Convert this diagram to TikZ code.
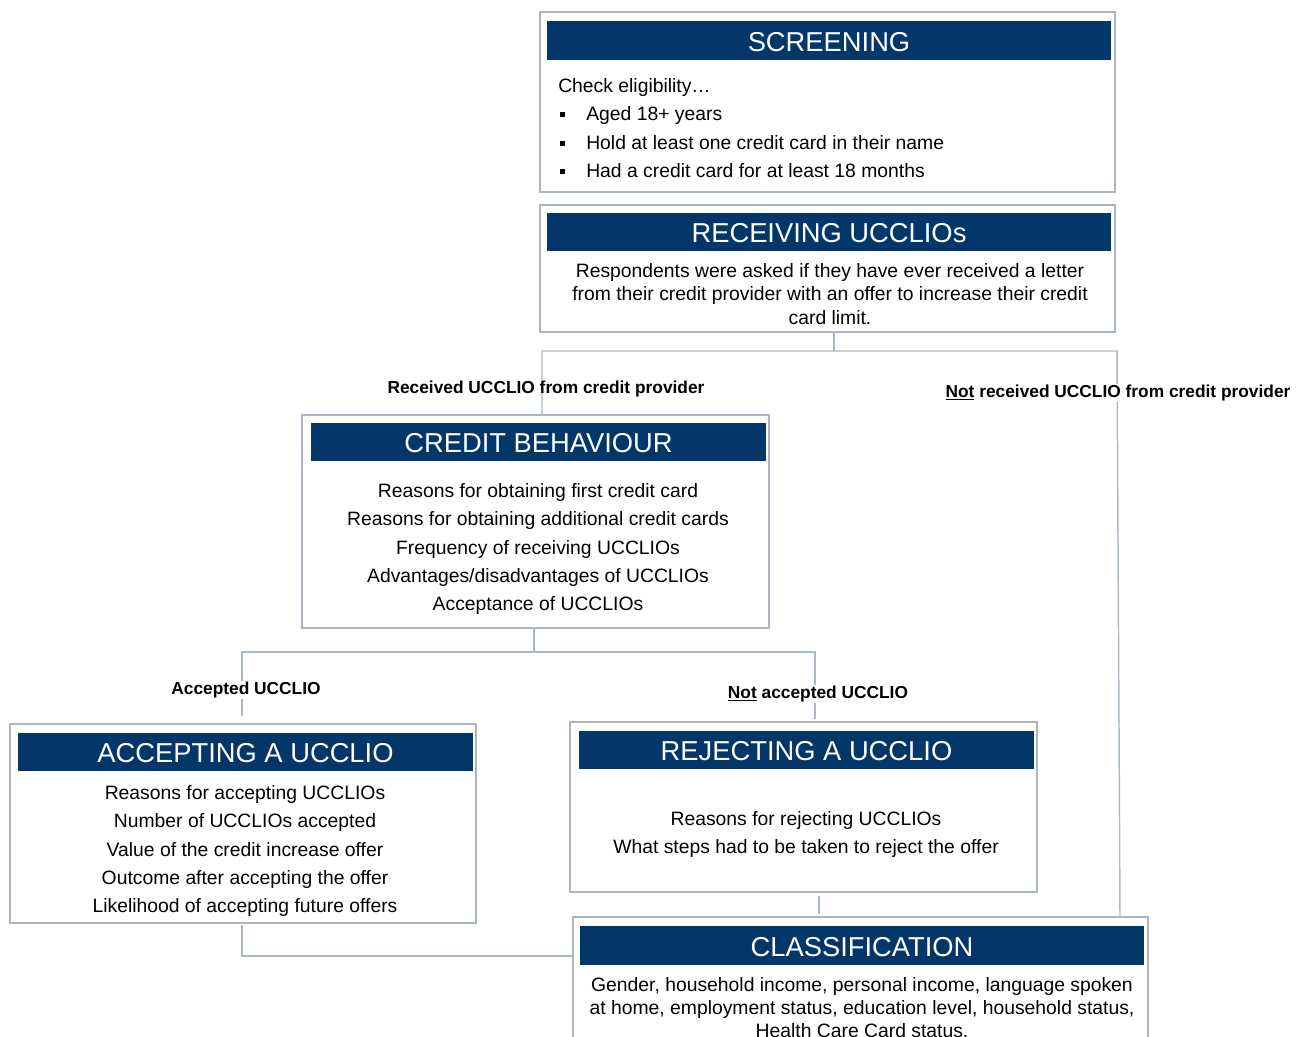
\documentclass[tikz,border=0pt]{standalone}
\usepackage{fontspec}
\setmainfont{Liberation Sans}
\usetikzlibrary{fit}
\definecolor{navy}{RGB}{3,54,105}
\definecolor{boxline}{RGB}{170,181,191}
\definecolor{connline}{RGB}{169,184,196}
\tikzset{
  box/.style={draw=boxline, line width=1pt, fill=white, inner sep=0pt},
  hdr/.style={fill=navy, inner sep=0pt},
  hdrtext/.style={text=white, font=\fontsize{20.5}{24}\selectfont, inner sep=0pt, yshift=-0.9pt},
  body/.style={font=\fontsize{14.5}{21.3}\selectfont, align=center, inner sep=0pt},
  lbl/.style={font=\bfseries\fontsize{13}{15}\selectfont, inner sep=1pt},
  conn/.style={draw=connline, line width=1.1pt},
}
\newcommand{\sqbul}{\makebox[21pt][l]{\hspace{1.5pt}\rule[2.6pt]{3.8pt}{3.8pt}}}
\begin{document}
\begin{tikzpicture}[x=0.75pt,y=-0.75pt]
\useasboundingbox (0,0) rectangle (1305,1036);
\clip (0,0) rectangle (1305,1036);
% junction coordinates
\coordinate (j1) at (834,351);
\coordinate (j1L) at (542,351);
\coordinate (j1R) at (1117,351);
\coordinate (rEnd) at (1120,917);
\coordinate (j2) at (534,652);
\coordinate (j2L) at (242,652);
\coordinate (j2R) at (815,652);
\coordinate (accEnd) at (242,716);
\coordinate (rejEnd) at (815,719);
\coordinate (j3) at (819,896);
\coordinate (j3e) at (819,914);
\coordinate (j4) at (242,925);
\coordinate (j4c) at (242,956);
\coordinate (j4e) at (572,956);

% boxes
\node[box, fit={(540,12) (1115,192)}] (scr) {};
\node[hdr, fit={(547,21) (1111,60)}] (scrh) {};
\node[hdrtext] (scrt) at (scrh.center) {SCREENING};
\node[font=\fontsize{14.5}{21.3}\selectfont, align=left, inner sep=0pt, anchor=west] (scrb) at (558,128)
  {Check eligibility…\\ \sqbul Aged 18+ years\\ \sqbul Hold at least one credit card in their name\\ \sqbul Had a credit card for at least 18 months};

\node[box, fit={(540,205) (1115,332)}] (rec) {};
\node[hdr, fit={(547,213) (1111,251)}] (rech) {};
\node[hdrtext] (rect) at (rech.center) {RECEIVING UCCLIOs};
\node[body, font=\fontsize{14.5}{17.6}\selectfont] (recb) at (830,294)
  {Respondents were asked if they have ever received a letter\\ from their credit provider with an offer to increase their credit\\ card limit.};

\node[box, fit={(302,415) (769,628)}] (cb) {};
\node[hdr, fit={(311,423) (766,461)}] (cbh) {};
\node[hdrtext] (cbt) at (cbh.center) {CREDIT BEHAVIOUR};
\node[body] (cbb) at (538,549)
  {Reasons for obtaining first credit card\\ Reasons for obtaining additional credit cards\\ Frequency of receiving UCCLIOs\\ Advantages/disadvantages of UCCLIOs\\ Acceptance of UCCLIOs};

\node[box, fit={(10,724) (476,923)}] (acc) {};
\node[hdr, fit={(18,733) (473,771)}] (acch) {};
\node[hdrtext] (acct) at (acch.center) {ACCEPTING A UCCLIO};
\node[body] (accb) at (245,851)
  {Reasons for accepting UCCLIOs\\ Number of UCCLIOs accepted\\ Value of the credit increase offer\\ Outcome after accepting the offer\\ Likelihood of accepting future offers};

\node[box, fit={(570,722) (1037,892)}] (rej) {};
\node[hdr, fit={(579,731) (1034,769)}] (rejh) {};
\node[hdrtext] (rejt) at (rejh.center) {REJECTING A UCCLIO};
\node[body] (rejb) at (806,834.5)
  {Reasons for rejecting UCCLIOs\\ What steps had to be taken to reject the offer};

\node[box, fit={(573,917) (1148,1070)}] (cls) {};
\node[hdr, fit={(580,926) (1144,965)}] (clsh) {};
\node[hdrtext] (clst) at (clsh.center) {CLASSIFICATION};
\node[body, font=\fontsize{14.5}{17.3}\selectfont] (clsb) at (862,1007.5)
  {Gender, household income, personal income, language spoken\\ at home, employment status, education level, household status,\\ Health Care Card status.};

% connectors
\draw[conn] (j1 |- rec.south) -- (j1);
\draw[conn] (j1L |- cb.north) -- (j1L) -- (j1R) -- (rEnd);
\draw[conn] (j2 |- cb.south) -- (j2);
\draw[conn] (accEnd) -- (j2L) -- (j2R) -- (rejEnd);
\draw[conn] (j3) -- (j3e);
\draw[conn] (j4) -- (j4c) -- (j4e);

% labels
\node[lbl] (lrec) at (546,389) {Received UCCLIO from credit provider};
\node[lbl, fill=white] (lnrec) at (1118,393) {\underline{Not} received UCCLIO from credit provider};
\node[lbl, fill=white, inner sep=0.5pt] (lacc) at (246,690) {Accepted UCCLIO};
\node[lbl, fill=white, inner sep=0.5pt] (lnacc) at (818,694) {\underline{Not} accepted UCCLIO};
\end{tikzpicture}
\end{document}
